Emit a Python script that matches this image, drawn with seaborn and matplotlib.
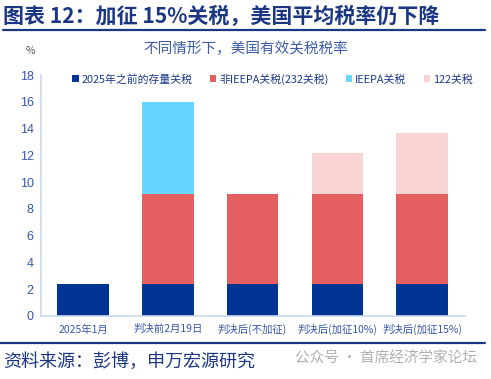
import numpy as np
import pandas as pd
import matplotlib
matplotlib.use("Agg")
import matplotlib.pyplot as plt
from matplotlib.patches import Patch
from matplotlib.lines import Line2D
import seaborn as sns

sns.set_style("white")
plt.rcParams['font.family'] = ['Noto Sans CJK SC', 'DejaVu Sans']

# ---- data ----
categories = ["2025年1月", "判决前2月19日", "判决后(不加征)", "判决后(加征10%)", "判决后(加征15%)"]
series_names = ["2025年之前的存量关税", "非IEEPA关税(232关税)", "IEEPA关税", "122关税"]
base_tariff = [2.4, 2.4, 2.4, 2.4, 2.4]
non_ieepa = [0.0, 6.7, 6.7, 6.7, 6.7]
ieepa = [0.0, 6.9, 0.0, 0.0, 0.0]
sec122 = [0.0, 0.0, 0.0, 3.1, 4.6]
y_ticks = [0, 2, 4, 6, 8, 10, 12, 14, 16, 18]

colors = ["#003594", "#E35F60", "#66D5FF", "#F8D4D5"]
navy = "#1C3A8C"
tick_blue = "#3656A6"
spine_col = "#C9D9EE"

layers = [base_tariff, non_ieepa, ieepa, sec122]
cum = np.cumsum(np.array(layers), axis=0)

fig = plt.figure(figsize=(4.91, 3.79), dpi=100)
ax = fig.add_axes([40.7 / 491, 1 - 316 / 379, (464.5 - 40.7) / 491, (316 - 75) / 379])

# draw stacked bars by overplotting cumulative totals (top layer first)
for i in range(len(layers) - 1, -1, -1):
    df = pd.DataFrame({"cat": categories, "val": cum[i]})
    sns.barplot(data=df, x="cat", y="val", color=colors[i], saturation=1,
                width=0.61, ax=ax, order=categories, linewidth=0)

ax.set_xlim(-0.5, len(categories) - 0.5)
ax.set_ylim(0, 18)
ax.set_yticks(y_ticks)
ax.set_yticklabels([str(t) for t in y_ticks], color=tick_blue, fontsize=9, family=['Liberation Sans', 'DejaVu Sans'])
ax.set_xticks(range(len(categories)))
ax.set_xticklabels(categories, color=tick_blue, fontsize=7.5)
ax.set_xticks(np.arange(0.5, len(categories) - 0.5, 1), minor=True)
ax.tick_params(axis="x", which="major", length=0, pad=6)
ax.tick_params(axis="x", which="minor", length=3, color=spine_col, direction="out")
ax.tick_params(axis="y", which="major", length=3, color=spine_col, direction="out", pad=2)
ax.set_xlabel("")
ax.set_ylabel("")
for s in ["top", "right"]:
    ax.spines[s].set_visible(False)
for s in ["left", "bottom"]:
    ax.spines[s].set_color(spine_col)
    ax.spines[s].set_linewidth(1.2)

handles = [Patch(facecolor=c, edgecolor="none", label=n) for c, n in zip(colors, series_names)]
leg = fig.legend(handles=handles, loc="center", bbox_to_anchor=(272.5 / 491, 1 - 79 / 379),
                 ncol=4, frameon=False, fontsize=7.8, handlelength=0.6, handleheight=0.6,
                 handletextpad=0.25, columnspacing=1.6, borderaxespad=0, borderpad=0)
for t in leg.get_texts():
    t.set_color(navy)

# titles and annotations
fig.text(3 / 491, 1 - 16.5 / 379, "图表 12：加征 15%关税，美国平均税率仍下降", fontsize=15.1,
         fontweight="bold", color="#1B3784", va="center", ha="left")
fig.add_artist(Line2D([3 / 491, 485 / 491], [1 - 29.5 / 379, 1 - 29.5 / 379], color="#1B3784", lw=1.6))
fig.text(246 / 491, 1 - 48.5 / 379, "不同情形下，美国有效关税税率", fontsize=10.5, color="#3C5CA6",
         va="center", ha="center")
fig.text(30.5 / 491, 1 - 51.5 / 379, "%", fontsize=7.5, color="#555555", va="center", ha="center")
fig.add_artist(Line2D([0, 485 / 491], [1 - 343 / 379, 1 - 343 / 379], color="#1B3784", lw=1.6))
fig.text(3 / 491, 1 - 362 / 379, "资料来源：彭博，申万宏源研究", fontsize=13, color="#1B3784",
         va="center", ha="left")
fig.text(295 / 491, 1 - 359 / 379, "公众号 · 首席经济学家论坛", fontsize=10.5, color="#AFAFAF",
         va="center", ha="left")

fig.savefig("out.png", dpi=100)
